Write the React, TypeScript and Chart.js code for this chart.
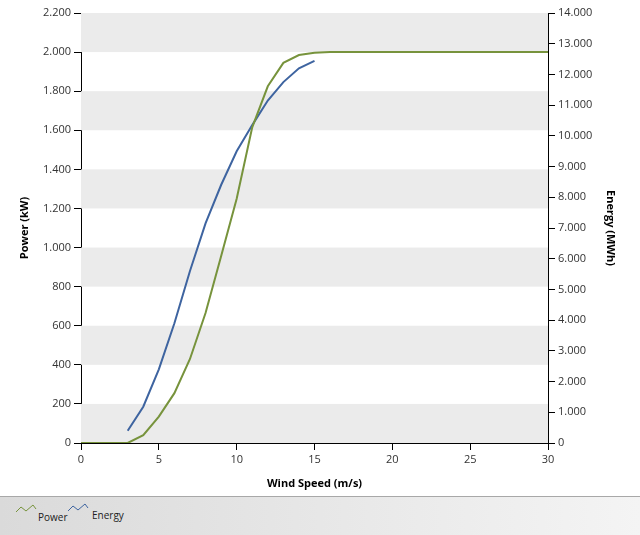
import React, { useEffect, useRef } from "react";
import { Chart, registerables } from "chart.js";

Chart.register(...registerables);

const windSpeeds = [0, 1, 2, 3, 4, 5, 6, 7, 8, 9, 10, 11, 12, 13, 14, 15, 16, 17, 18, 19, 20, 21, 22, 23, 24, 25, 26, 27, 28, 29, 30];
const powerKW = [0, 0, 0, 0, 40, 135, 255, 430, 665, 955, 1250, 1615, 1825, 1945, 1985, 1997, 2000, 2000, 2000, 2000, 2000, 2000, 2000, 2000, 2000, 2000, 2000, 2000, 2000, 2000, 2000];
const energySpeeds = [3, 4, 5, 6, 7, 8, 9, 10, 11, 12, 13, 14, 15];
const energyMWh = [400, 1180, 2400, 3900, 5600, 7150, 8400, 9500, 10350, 11150, 11750, 12200, 12440];
const seriesNames = ["Power", "Energy"];
const axisTitles = { x: "Wind Speed (m/s)", left: "Power (kW)", right: "Energy (MWh)" };

const GREEN = "#77933c";
const BLUE = "#3e64a0";
const FONT = "'Open Sans', 'DejaVu Sans', sans-serif";

const fmt = (v: number) => String(Math.round(v)).replace(/\B(?=(\d{3})+(?!\d))/g, ".");

const bandPlugin = {
  id: "bands",
  beforeDatasetsDraw(chart: any) {
    const { ctx, chartArea, scales } = chart;
    const y = scales.y;
    const ticks = y.ticks;
    ctx.save();
    ctx.fillStyle = "#ebebeb";
    for (let i = 0; i < ticks.length - 1; i += 2) {
      const y0 = y.getPixelForValue(ticks[i].value);
      const y1 = y.getPixelForValue(ticks[i + 1].value);
      ctx.fillRect(chartArea.left, y1, chartArea.right - chartArea.left, y0 - y1);
    }
    ctx.restore();
  },
};

function LegendIcon({ color }: { color: string }) {
  return (
    <svg width="22" height="10" style={{ display: "block" }}>
      <polyline points="1,8 6,3 11,7 18,1 21,5" fill="none" stroke={color} strokeWidth="1" />
    </svg>
  );
}

export default function App() {
  const ref = useRef<HTMLCanvasElement>(null);
  useEffect(() => {
    document.body.style.margin = "0";
    const tickFont = { family: FONT, size: 11 };
    const titleFont = { family: FONT, size: 11, weight: "bold" as const };
    const chart = new Chart(ref.current!, {
      type: "line",
      data: {
        datasets: [
          {
            label: seriesNames[0],
            data: windSpeeds.map((x, i) => ({ x, y: powerKW[i] })),
            borderColor: GREEN,
            borderWidth: 2,
            pointRadius: 0,
            yAxisID: "y",
            tension: 0,
          },
          {
            label: seriesNames[1],
            data: energySpeeds.map((x, i) => ({ x, y: energyMWh[i] })),
            borderColor: BLUE,
            borderWidth: 2,
            pointRadius: 0,
            yAxisID: "y2",
            tension: 0,
          },
        ],
      },
      options: {
        animation: false,
        responsive: false,
        layout: { padding: { top: 13, left: 0, right: 0, bottom: 0 } },
        plugins: { legend: { display: false }, tooltip: { enabled: false } },
        scales: {
          x: {
            type: "linear",
            min: 0,
            max: 30,
            ticks: { stepSize: 5, font: tickFont, color: "#333", padding: 3 },
            grid: { drawOnChartArea: false, tickLength: 7, tickColor: "#000" },
            border: { color: "#000", width: 1 },
            title: { display: true, text: axisTitles.x, font: titleFont, color: "#000", padding: { bottom: 7, top: 0 } },
            afterFit: (s: any) => { s.height = 54; },
          },
          y: {
            position: "left",
            min: 0,
            max: 2200,
            ticks: { stepSize: 200, font: tickFont, color: "#333", padding: 3, callback: (v: any) => fmt(v) },
            grid: { drawOnChartArea: false, tickLength: 7, tickColor: "#000" },
            border: { color: "#000", width: 1 },
            title: { display: true, text: axisTitles.left, font: titleFont, color: "#000", padding: { top: 18, bottom: 0 } },
            afterFit: (s: any) => { s.width = 81; },
          },
          y2: {
            position: "right",
            min: 0,
            max: 14000,
            ticks: { stepSize: 1000, font: tickFont, color: "#333", padding: 3, callback: (v: any) => fmt(v) },
            grid: { drawOnChartArea: false, tickLength: 7, tickColor: "#000" },
            border: { color: "#000", width: 1 },
            title: { display: true, text: axisTitles.right, font: titleFont, color: "#000", padding: { top: 23, bottom: 0 } },
            afterFit: (s: any) => { s.width = 92; },
          },
        },
      },
      plugins: [bandPlugin],
    });
    return () => chart.destroy();
  }, []);

  return (
    <div style={{ width: 640, height: 535, position: "relative", background: "#fff", fontFamily: FONT }}>
      <canvas ref={ref} width={640} height={497} style={{ display: "block", width: 640, height: 497 }} />
      <div
        style={{
          position: "absolute",
          left: 0,
          top: 496,
          width: 640,
          height: 39,
          borderTop: "1px solid #a8a8a8",
          background: "linear-gradient(to right, #dadada, #f4f4f4)",
          boxSizing: "border-box",
        }}
      >
        <div style={{ position: "absolute", left: 15, top: 7 }}><LegendIcon color={GREEN} /></div>
        <div style={{ position: "absolute", left: 38, top: 13, fontSize: 10, color: "#222" }}>{seriesNames[0]}</div>
        <div style={{ position: "absolute", left: 67, top: 6 }}><LegendIcon color={BLUE} /></div>
        <div style={{ position: "absolute", left: 92, top: 11, fontSize: 10, color: "#222" }}>{seriesNames[1]}</div>
      </div>
    </div>
  );
}
